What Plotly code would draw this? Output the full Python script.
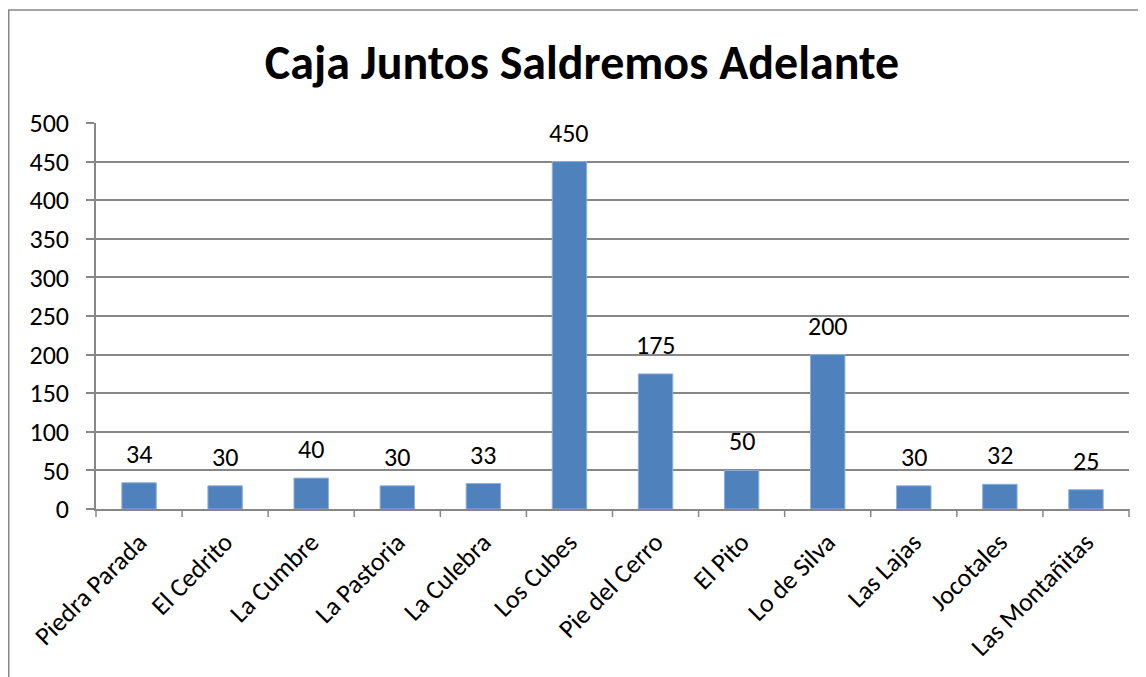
import plotly.graph_objects as go

categories = ["Piedra Parada", "El Cedrito", "La Cumbre", "La Pastoria", "La Culebra",
              "Los Cubes", "Pie del Cerro", "El Pito", "Lo de Silva", "Las Lajas",
              "Jocotales", "Las Montañitas"]
values = [34, 30, 40, 30, 33, 450, 175, 50, 200, 30, 32, 25]
y_ticks = [0, 50, 100, 150, 200, 250, 300, 350, 400, 450, 500]
title_text = "Caja Juntos Saldremos Adelante"

FONT = "Carlito, Calibri, Lato, sans-serif"
GRID = "#878787"

# page body has an 8px margin; figure frame is offset by 8px
W, H = 1138, 669
L, R, T, B = 88, 17, 115, 168
pw, ph = W - L - R, H - T - B

fig = go.Figure()
fig.add_trace(go.Bar(
    x=categories, y=values,
    marker=dict(color="#4F81BD", line=dict(color="#8DB0DC", width=1)),
    width=0.4,
    hoverinfo="x+y",
))

for c, v in zip(categories, values):
    fig.add_annotation(x=c, y=v, text=str(v), showarrow=False, yanchor="bottom",
                       yshift=11, font=dict(family=FONT, size=26, color="#000000"))

fig.update_layout(
    width=W, height=H,
    margin=dict(l=L, r=R, t=T, b=B, autoexpand=False),
    paper_bgcolor="white", plot_bgcolor="white",
    showlegend=False,
    title=dict(text="<b>" + title_text + "</b>", x=574 / W, xanchor="center",
               y=1 - 54 / H, yanchor="middle",
               font=dict(family=FONT, size=48, color="#000000")),
    xaxis=dict(
        tickangle=-45, tickfont=dict(family=FONT, size=26, color="#000000"),
        showgrid=False, showline=True, linecolor=GRID, linewidth=1.5,
        ticks="", range=[-0.5, len(categories) - 0.5],
        ticklabelstandoff=6,
    ),
    yaxis=dict(
        range=[0, 500], tickvals=y_ticks, ticktext=[str(t) for t in y_ticks],
        tickfont=dict(family=FONT, size=26, color="#000000"),
        showgrid=True, gridcolor=GRID, gridwidth=1.5,
        showline=True, linecolor=GRID, linewidth=1.5,
        ticks="outside", ticklen=8, tickcolor=GRID, tickwidth=1.5,
        ticklabelstandoff=12, zeroline=False,
    ),
    bargap=0.6,
)

# category separator ticks on x axis
for i in range(len(categories) + 1):
    xp = i / len(categories)
    fig.add_shape(type="line", xref="paper", yref="paper", x0=xp, x1=xp,
                  y0=0, y1=-8 / ph, line=dict(color=GRID, width=1.5))

# chart border
fig.add_shape(type="rect", xref="paper", yref="paper",
              x0=(0.75 - L) / pw, x1=(W + 10 - L) / pw,
              y0=-(H + 10 - (H - B)) / ph, y1=((H - B) - 2) / ph,
              line=dict(color="#868686", width=1.5), fillcolor="rgba(0,0,0,0)",
              layer="below")

fig.write_html("out.html")
